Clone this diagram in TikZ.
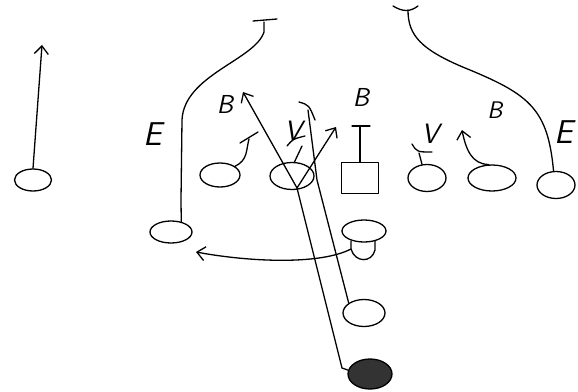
\documentclass[tikz,border=0pt]{standalone}
\usetikzlibrary{shapes.geometric,arrows.meta}
\begin{document}
\begin{tikzpicture}[x=1pt,y=-1pt,line width=1.3pt,line cap=round,line join=round,
  player/.style={draw,ellipse,inner sep=0pt},
  arr/.style={-{Straight Barb[length=8pt,width=14pt,line width=1.3pt]}},
  lbl/.style={font=\sffamily\slshape,inner sep=0pt}]
\useasboundingbox (0,0) rectangle (578,391);
% players
\node[player,minimum width=37pt,minimum height=22pt] (wr) at (33,180) {};
\node[player,minimum width=42pt,minimum height=22pt] (le) at (171,232) {};
\node[player,minimum width=40pt,minimum height=24pt] (lg) at (220,175) {};
\node[player,minimum width=44pt,minimum height=27pt] (c) at (292,176) {};
\node[draw,minimum width=37pt,minimum height=31pt,inner sep=0pt] (sq) at (360,178) {};
\node[player,minimum width=38pt,minimum height=27pt] (rg) at (427,178) {};
\node[player,minimum width=48pt,minimum height=26pt] (rt) at (492,178) {};
\node[player,minimum width=38pt,minimum height=27pt] (re) at (556,185) {};
\node[player,minimum width=44pt,minimum height=22pt] (hb) at (364,231) {};
\node[player,minimum width=42pt,minimum height=27pt] (rb) at (364,313) {};
\node[player,fill=black!80,minimum width=44pt,minimum height=30pt] (qb) at (370,374) {};
% labels
\node[lbl,font=\fontsize{33}{33}\sffamily\slshape] (e1) at (153,134) {E};
\node[lbl,font=\fontsize{33}{33}\sffamily\slshape] (e2) at (564,132) {E};
\node[lbl,font=\fontsize{26}{26}\sffamily\slshape] (b1) at (225,104) {B};
\node[lbl,font=\fontsize{26}{26}\sffamily\slshape] (b2) at (361,97) {B};
\node[lbl,font=\fontsize{24}{24}\sffamily\slshape] (b3) at (495,110) {B};
\node[lbl,font=\fontsize{28}{28}\sffamily\slshape] (v1) at (293,131) {V};
\node[lbl,font=\fontsize{28}{28}\sffamily\slshape] (v2) at (430,134) {V};
% free ends
\coordinate (wrT) at (42,45);
\coordinate (leT) at (264,22);
\coordinate (leA) at (253,21); \coordinate (leB) at (277,19);
\coordinate (lgT) at (249,139);
\coordinate (lgA) at (240,143); \coordinate (lgB) at (258,132);
\coordinate (cb) at (297,188);
\coordinate (bT) at (243,92);
\coordinate (cT) at (336,127);
\coordinate (vT) at (302,146);
\coordinate (vA) at (287,146); \coordinate (vB) at (305,136);
\coordinate (rbT) at (308,110);
\coordinate (rbA) at (299,102); \coordinate (rbB) at (315,120);
\coordinate (sqT) at (360,127);
\coordinate (sqA) at (352,126); \coordinate (sqB) at (370,126);
\coordinate (hbT) at (196,252);
\coordinate (rgT) at (419,153);
\coordinate (rgA) at (412,144); \coordinate (rgB) at (432,152);
\coordinate (rtT) at (462,130);
\coordinate (reT) at (408,10);
\coordinate (reA) at (393,6); \coordinate (reB) at (418,6);
% routes
\draw[arr] (wr.north) -- (wrT);
\draw (le.45) -- (181,200) -- (182,120) .. controls (184,75) and (255,60) .. (264,32) -- (leT);
\draw (leA) -- (leB);
\draw (lg.30) .. controls (248,160) and (246,150) .. (lgT);
\draw (lgA) -- (lgB);
\draw[arr] (qb.170) -- (342,368) -- (cb) -- (bT);
\draw[arr] (cb) -- (cT);
\draw (c.80) -- (vT);
\draw (vA) .. controls (293,139) .. (vB);
\draw (rb.north west) -- (317,180) -- (rbT);
\draw (rbA) .. controls (309,105) .. (rbB);
\draw (sq.north) -- (sqT);
\draw (sqA) -- (sqB);
\draw (351,241) -- (351,249) .. controls (355,263) and (372,263) .. (375,250) -- (375,241);
\draw[arr] (351,249) .. controls (320,265) and (250,262) .. (hbT);
\draw (rg.110) -- (rgT);
\draw (rgA) .. controls (417,152) .. (rgB);
\draw[arr] (rt.105) .. controls (472,164) and (466,150) .. (rtT);
\draw (re.100) .. controls (548,110) and (530,95) .. (470,70) .. controls (420,50) and (408,35) .. (reT);
\draw (reA) .. controls (403,12) and (410,12) .. (reB);
\end{tikzpicture}
\end{document}
